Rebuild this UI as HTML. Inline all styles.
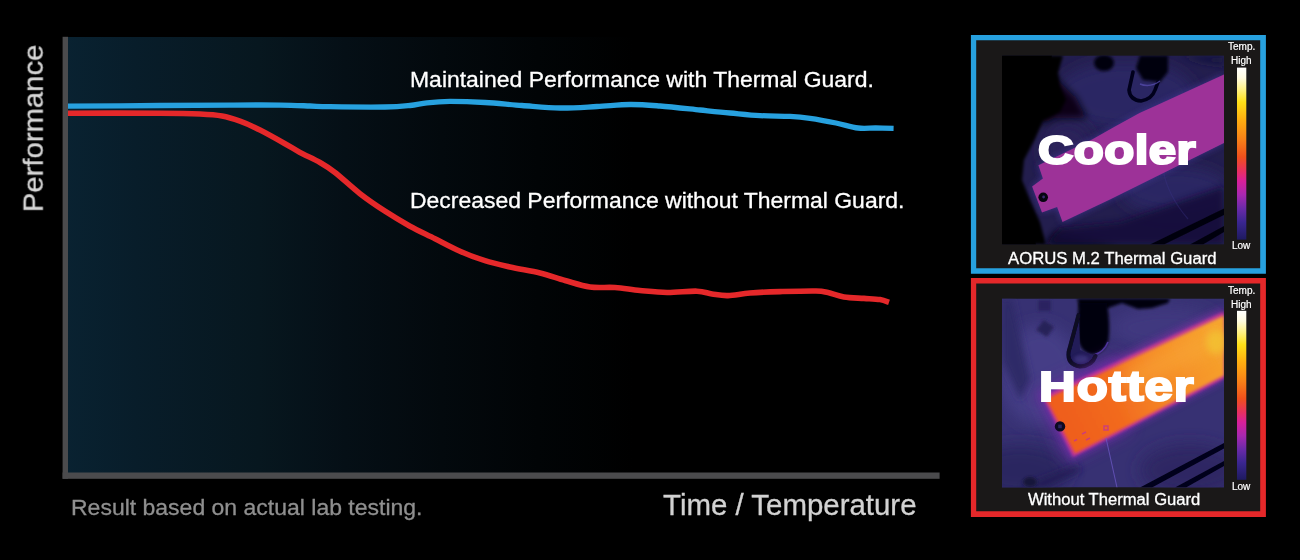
<!DOCTYPE html>
<html lang="en">
<head>
<meta charset="utf-8">
<title>AORUS M.2 Thermal Guard</title>
<style>
  html, body { margin: 0; padding: 0; background: #000; }
  body { width: 1300px; height: 560px; position: relative; overflow: hidden;
         font-family: "Liberation Sans", Arial, sans-serif; color: #fff; }
  #stage { position: absolute; left: 0; top: 0; width: 1300px; height: 560px; background: #000; }
  #gfx { position: absolute; left: 0; top: 0; }
  .lbl { position: absolute; white-space: nowrap; line-height: 1; margin: 0;
         transform-origin: 0 0; will-change: transform; }
  #chart-bg { position: absolute; left: 66px; top: 37px; width: 874px; height: 440px;
     background: linear-gradient(90deg, #092231 0%, #081d2a 8%, #07171f 22%, #050f16 32%, #03090d 43%, #010406 54%, #000 65%); }
  #ylabel { left: 0; top: 0; font-size: 28.5px; color: #d6d6d6; -webkit-text-stroke: 0.3px #d6d6d6;
     transform: translate(18.7px, 212.2px) rotate(-90deg) scaleX(1.027); }
  #xlabel { left: 662.8px; top: 491.2px; font-size: 28.8px; color: #d2d2d2; transform: scaleX(1.022); -webkit-text-stroke: 0.3px #d2d2d2; }
  #note { left: 71.2px; top: 497px; font-size: 22px; color: #8f8f8f; transform: scaleX(1.045); -webkit-text-stroke: 0.3px #8f8f8f; }
  #t1 { left: 410px; top: 68.9px; font-size: 22px; color: #fff; transform: scaleX(1.043); -webkit-text-stroke: 0.3px #fff; }
  #t2 { left: 410px; top: 190px; font-size: 22px; color: #fff; transform: scaleX(1.043); -webkit-text-stroke: 0.3px #fff; }
  .panel { position: absolute; left: 973px; width: 291px; background: #1a1818; }
  #p-cool { top: 37px; height: 235px; }
  #p-hot { top: 280px; height: 235px; }
  .cap { font-size: 16px; color: #fff; transform: scaleX(1.044); -webkit-text-stroke: 0.3px #fff; }
  .tiny { font-size: 10px; color: #fff; -webkit-text-stroke: 0.2px #fff; }
  .big { font-weight: bold; font-size: 41.5px; color: #fff; -webkit-text-stroke: 2.2px #fff; }
</style>
</head>
<body>
<div id="stage">
  <div id="chart-bg"></div>

  <div class="panel" id="p-cool"></div>
  <div class="panel" id="p-hot"></div>

  <svg id="gfx" width="1300" height="560" viewBox="0 0 1300 560">
    <defs>
      <clipPath id="clipCool"><rect x="1002" y="55.5" width="222" height="189"/></clipPath>
      <clipPath id="clipHot"><rect x="1002" y="298.5" width="222" height="189"/></clipPath>
      <filter id="b1" x="-20%" y="-20%" width="140%" height="140%"><feGaussianBlur stdDeviation="0.7"/></filter>
      <filter id="b2" x="-30%" y="-30%" width="160%" height="160%"><feGaussianBlur stdDeviation="1.6"/></filter>
      <filter id="b4" x="-40%" y="-40%" width="180%" height="180%"><feGaussianBlur stdDeviation="3.5"/></filter>
      <filter id="b8" x="-60%" y="-60%" width="220%" height="220%"><feGaussianBlur stdDeviation="8"/></filter>
      <linearGradient id="hotg" gradientUnits="userSpaceOnUse" x1="1050" y1="430" x2="1224" y2="344">
        <stop offset="0" stop-color="#ee5a1c"/>
        <stop offset="0.35" stop-color="#f26a1e"/>
        <stop offset="0.65" stop-color="#f58a26"/>
        <stop offset="1" stop-color="#f6a42e"/>
      </linearGradient>
      <linearGradient id="bar" x1="0" y1="0" x2="0" y2="1">
        <stop offset="0" stop-color="#ffffff"/>
        <stop offset="0.06" stop-color="#fffbe0"/>
        <stop offset="0.13" stop-color="#fff080"/>
        <stop offset="0.20" stop-color="#ffe018"/>
        <stop offset="0.30" stop-color="#ffb010"/>
        <stop offset="0.42" stop-color="#f88018"/>
        <stop offset="0.52" stop-color="#f0501c"/>
        <stop offset="0.60" stop-color="#e83060"/>
        <stop offset="0.66" stop-color="#d8209a"/>
        <stop offset="0.74" stop-color="#a828b0"/>
        <stop offset="0.82" stop-color="#6a2aa8"/>
        <stop offset="0.90" stop-color="#3a2690"/>
        <stop offset="1" stop-color="#1e1a60"/>
      </linearGradient>
    </defs>

    <!-- chart axes -->
    <rect x="62.6" y="36.8" width="5.4" height="442" fill="#4b4b4d"/>
    <rect x="62.6" y="472.5" width="877" height="6.3" fill="#4b4b4d"/>

    <!-- panel frames -->
    <path fill="#27a1df" fill-rule="evenodd" d="M970.9,34.9 H1265.9 V273.7 H970.9 Z M976.2,40.2 V268.2 H1260.2 V40.2 Z"/>
    <path fill="#e5282a" fill-rule="evenodd" d="M970.9,278.1 H1265.9 V517 H970.9 Z M976.2,283.5 V511.2 H1260.2 V283.5 Z"/>

    <!-- thermal image: cooler -->
    <g id="img-cool" clip-path="url(#clipCool)">
      <rect x="1002" y="55.5" width="222" height="189" fill="#231e4e"/>
      <!-- lighter board texture -->
      <ellipse cx="1125" cy="95" rx="70" ry="34" fill="#2c2764" filter="url(#b8)"/>
      <ellipse cx="1068" cy="150" rx="26" ry="30" fill="#29245a" filter="url(#b8)"/>
      <ellipse cx="1175" cy="190" rx="55" ry="24" fill="#2b2664" filter="url(#b8)"/>
      <!-- black regions -->
      <path d="M1050,70 L1062,84 L1076,97 L1087,118 L1056,118 L1040,125 Z" fill="#070518" filter="url(#b4)"/>
      <path d="M1002,55.5 L1063,55.5 L1058,73 L1060,86 L1066,100 L1060,112 L1043,121 L1035,139 L1024,160 L1022,180 L1030,200 L1040,222 L1046,244.5 L1002,244.5 Z" fill="#000" filter="url(#b2)"/>
      <path d="M1002,55.5 L1052,55.5 L1040,100 L1026,140 L1016,170 L1024,205 L1036,244.5 L1002,244.5 Z" fill="#000"/>
      <path d="M1046,244.5 L1056,232 L1085,238 L1120,244.5 Z" fill="#05040f" filter="url(#b4)"/>
      <!-- dark components top -->
      <ellipse cx="1104" cy="63" rx="10" ry="8" fill="#04030c" filter="url(#b2)"/>
      <path d="M1140,55.5 L1168,55.5 L1168,72 L1160,82 L1143,80 L1136,68 Z" fill="#04030c" filter="url(#b2)"/>
      <path d="M1133,72 L1129,90 Q1130,100 1141,101 Q1152,99 1155,90 L1158,82" stroke="#06051a" stroke-width="3.6" fill="none" stroke-linecap="round" filter="url(#b1)"/>
      <path d="M1140,84 Q1150,88 1160,81" stroke="#5a50b4" stroke-width="1.5" fill="none" opacity="0.7" filter="url(#b1)"/>
      <path d="M1180,55.5 L1224,55.5 L1224,66 L1200,62 Z" fill="#191540" filter="url(#b4)"/>
      <!-- diagonal dark bands bottom right -->
      <path d="M1046,244.5 L1060,228 L1120,222 L1224,186 L1224,244.5 Z" fill="#14113a" opacity="0.9" filter="url(#b4)"/>
      <path d="M1150,244.5 L1224,208.5 L1224,215 L1164,244.5 Z" fill="#05040f" filter="url(#b1)"/>
      <path d="M1190,244.5 L1224,226 L1224,232 L1203,244.5 Z" fill="#05040f" filter="url(#b1)"/>
      <path d="M1163,170 Q1168,196 1188,219" stroke="#3a3488" stroke-width="1.2" fill="none" opacity="0.35" filter="url(#b1)"/>
      <!-- cool strip -->
      <path d="M1224,74.5 L1154,106.6 L1140,112.8 L1115,126.5 L1092,139.6 L1038.4,165.2 L1042.9,178.6 L1032.1,186.6 L1042,212.5 L1057.1,207.1 L1062.5,222 L1110,199.5 L1224,143 Z" fill="#3f3590" opacity="0.9" filter="url(#b4)"/>
      <path d="M1224,74.5 L1154,106.6 L1140,112.8 L1115,126.5 L1092,139.6 L1038.4,165.2 L1042.9,178.6 L1032.1,186.6 L1042,212.5 L1057.1,207.1 L1062.5,222 L1110,199.5 L1224,143 Z" fill="#9d3298" filter="url(#b1)"/>
      <circle cx="1043.2" cy="197.3" r="4.8" fill="#07050f"/>
      <circle cx="1043.6" cy="197" r="1.4" fill="#3a2a70"/>
    </g>
    <!-- thermal image: hotter -->
    <g id="img-hot" clip-path="url(#clipHot)">
      <rect x="1002" y="298.5" width="222" height="189" fill="#373173"/>
      <ellipse cx="1040" cy="375" rx="40" ry="50" fill="#443e86" filter="url(#b8)"/>
      <ellipse cx="1165" cy="328" rx="55" ry="22" fill="#3f397f" filter="url(#b8)"/>
      <ellipse cx="1020" cy="470" rx="50" ry="26" fill="#2b2561" filter="url(#b8)"/>
      <ellipse cx="1190" cy="470" rx="50" ry="26" fill="#2d2764" filter="url(#b8)"/>
      <path d="M1002,298.5 L1012,298.5 L1030,380 L1020,400 L1002,360 Z" fill="#2f2968" filter="url(#b4)"/>
      <!-- small dark squares -->
      <rect x="1038" y="300" width="13" height="11" fill="#2a2460" filter="url(#b2)"/>
      <path d="M1044,320 L1054,327 L1047,337 L1036,330 Z" fill="#262058" filter="url(#b2)"/>
      <!-- dark cylinder components -->
      <path d="M1077,298.5 L1170,298.5 L1168,303 L1152,308 L1138,309 L1122,303 L1108,308 L1080,308 Z" fill="#05040f" filter="url(#b2)"/>
      <path d="M1079,303 L1107,303 Q1110.5,325 1108.5,340 Q1104,354 1092,354.5 Q1080,352 1078,338 Q1077,318 1079,303 Z" fill="#03020a" filter="url(#b2)"/>
      <path d="M1094,355 Q1104,352 1108,342" stroke="#5a3cb4" stroke-width="1.6" fill="none" opacity="0.8" filter="url(#b1)"/>
      <path d="M1079,314 L1068.6,352 Q1067,364.5 1080,366.5 Q1092,366 1095.5,356 L1080,350 Z" fill="#231d58" filter="url(#b1)"/>
      <path d="M1078.6,315 L1068.6,352 Q1067,364.5 1080,366.5 Q1092,366 1095.5,356" stroke="#0a0820" stroke-width="4" fill="none" stroke-linecap="round" filter="url(#b1)"/>
      <ellipse cx="1081" cy="359" rx="7" ry="4" fill="#4a4490" opacity="0.5" filter="url(#b2)"/>
      <!-- dark bands bottom -->
      <path d="M1140,487.5 L1224,443 L1224,448.5 L1152,487.5 Z" fill="#06051a" filter="url(#b1)"/>
      <path d="M1175,487.5 L1224,461 L1224,466 L1186,487.5 Z" fill="#06051a" filter="url(#b1)"/>
      <path d="M1020,487.5 L1075,466 L1082,470 L1045,487.5 Z" fill="#231e55" filter="url(#b4)"/>
      <ellipse cx="1030" cy="482" rx="7" ry="5" fill="#15123a" filter="url(#b2)"/>
      <!-- glow + hot strip -->
      <path d="M1120,352 L1034,392 L1066,462 L1130,430 Z" fill="#6a2fa0" opacity="0.7" filter="url(#b8)"/>
      <path d="M1224,307 L1038,393.5 L1071,460 L1224,381 Z" fill="#6a2fa0" opacity="0.85" filter="url(#b4)"/>
      <path d="M1224,311.5 L1042.5,396.5 L1073,457 L1224,378.5 Z" fill="#c0309a" filter="url(#b2)"/>
      <path d="M1224,315.5 L1046,399 L1075,453.4 L1224,375.5 Z" fill="url(#hotg)" filter="url(#b2)"/>
      <path d="M1224,322 L1120,371 L1130,392 L1224,348 Z" fill="#f8a838" opacity="0.55" filter="url(#b8)"/>
      <ellipse cx="1216" cy="342" rx="10" ry="12" fill="#f2c832" opacity="0.7" filter="url(#b4)"/>
      <circle cx="1060" cy="426.4" r="5.2" fill="#0c0a22"/>
      <rect x="1058.2" y="424.6" width="3.6" height="3.6" fill="#2a2560"/>
      <!-- faint component marks on strip -->
      <path d="M1104,426 h4 v4 h-4 z M1082,434 l4,-2 M1086,440 l4,-2 M1074,441 l3,-1.5" stroke="#c83888" stroke-width="1.5" opacity="0.85" fill="none" filter="url(#b1)"/>
      <path d="M1106,438 L1117,487.5" stroke="#6c58c4" stroke-width="1.1" opacity="0.75" fill="none" filter="url(#b1)"/>
    </g>

    <!-- colour scale bars -->
    <rect x="1237" y="67.6" width="9.3" height="172" fill="url(#bar)"/>
    <rect x="1237" y="310.8" width="9.3" height="169" fill="url(#bar)"/>

    <!-- curves -->
    <path id="blue" fill="none" stroke="#27a1df" stroke-width="5.3" stroke-linejoin="round"
      d="M68.0,106.2 C83.3,106.1 133.0,105.7 160.0,105.5 C187.0,105.3 210.0,105.2 230.0,105.1 C250.0,105.0 266.7,104.9 280.0,105.1 C293.3,105.2 301.7,105.7 310.0,106.0 C318.3,106.3 317.5,106.5 330.0,106.7 C342.5,106.9 371.7,107.2 385.0,107.0 C398.3,106.8 403.0,106.2 410.0,105.5 C417.0,104.8 420.3,103.5 427.0,102.8 C433.7,102.1 440.3,101.5 450.0,101.4 C459.7,101.4 473.0,101.8 485.0,102.5 C497.0,103.2 509.5,104.6 522.0,105.5 C534.5,106.4 547.5,107.8 560.0,108.0 C572.5,108.2 585.3,107.1 597.0,106.5 C608.7,105.9 619.5,104.6 630.0,104.5 C640.5,104.4 648.3,105.1 660.0,106.0 C671.7,106.9 688.3,108.8 700.0,110.0 C711.7,111.2 720.0,112.1 730.0,113.0 C740.0,113.9 750.0,115.0 760.0,115.6 C770.0,116.2 781.7,115.9 790.0,116.4 C798.3,116.9 802.3,117.3 810.0,118.4 C817.7,119.5 828.0,121.4 836.0,123.0 C844.0,124.6 851.3,127.2 858.0,128.0 C864.7,128.8 870.1,127.9 876.0,128.0 C881.9,128.1 890.7,128.3 893.6,128.4"/>
    <path id="red" fill="none" stroke="#e5282a" stroke-width="5.6" stroke-linejoin="round"
      d="M68.0,113.2 C83.3,113.2 138.0,113.1 160.0,113.2 C182.0,113.3 189.7,113.5 200.0,114.0 C210.3,114.5 215.3,114.8 222.0,116.0 C228.7,117.2 233.7,118.9 240.0,121.2 C246.3,123.5 252.5,126.2 260.0,130.0 C267.5,133.8 278.3,139.9 285.0,143.7 C291.7,147.4 294.2,149.4 300.0,152.5 C305.8,155.6 314.2,159.2 320.0,162.5 C325.8,165.8 328.3,167.3 335.0,172.5 C341.7,177.7 351.7,187.2 360.0,193.7 C368.3,200.1 376.7,205.8 385.0,211.2 C393.3,216.6 401.7,221.6 410.0,226.2 C418.3,230.8 426.7,234.5 435.0,238.7 C443.3,242.9 451.7,247.5 460.0,251.2 C468.3,254.9 476.7,258.1 485.0,260.7 C493.3,263.3 500.8,264.9 510.0,267.0 C519.2,269.1 530.8,270.8 540.0,273.0 C549.2,275.2 556.7,278.2 565.0,280.5 C573.3,282.8 581.7,285.8 590.0,287.0 C598.3,288.2 606.7,286.9 615.0,287.5 C623.3,288.1 631.3,289.7 640.0,290.5 C648.7,291.3 657.5,292.4 667.0,292.5 C676.5,292.6 689.5,290.9 697.0,291.2 C704.5,291.4 706.8,293.3 712.0,294.0 C717.2,294.7 721.7,295.8 728.0,295.6 C734.3,295.4 741.3,293.7 750.0,293.0 C758.7,292.3 769.0,291.9 780.0,291.6 C791.0,291.3 808.0,290.8 816.0,291.0 C824.0,291.2 823.3,291.6 828.0,292.6 C832.7,293.6 838.0,296.0 844.0,297.0 C850.0,298.0 858.0,298.0 864.0,298.4 C870.0,298.8 875.8,298.9 880.0,299.6 C884.2,300.3 887.5,301.9 889.0,302.4"/>
  </svg>

  <div class="lbl" id="ylabel">Performance</div>
  <div class="lbl" id="xlabel">Time / Temperature</div>
  <div class="lbl" id="note">Result based on actual lab testing.</div>
  <div class="lbl" id="t1">Maintained Performance with Thermal Guard.</div>
  <div class="lbl" id="t2">Decreased Performance without Thermal Guard.</div>

  <div class="lbl big" id="w-cool" style="left:1037.7px; top:129.4px; letter-spacing:0.3px; transform: scaleX(1.185);">Cooler</div>
  <div class="lbl big" id="w-hot" style="left:1038.6px; top:364.5px; font-size:43.3px; letter-spacing:0.8px; transform: scaleX(1.176);">Hotter</div>

  <div class="lbl cap" id="c-cool" style="left:1007.5px; top:251px;">AORUS M.2 Thermal Guard</div>
  <div class="lbl cap" id="c-hot" style="left:1027.6px; top:492px; transform: scaleX(1.038);">Without Thermal Guard</div>

  <div class="lbl tiny" style="left:1228px; top:42px;">Temp.</div>
  <div class="lbl tiny" style="left:1231px; top:56px;">High</div>
  <div class="lbl tiny" style="left:1232px; top:240.6px;">Low</div>
  <div class="lbl tiny" style="left:1228px; top:285.8px;">Temp.</div>
  <div class="lbl tiny" style="left:1231px; top:299.6px;">High</div>
  <div class="lbl tiny" style="left:1232px; top:482px;">Low</div>
</div>
</body>
</html>
